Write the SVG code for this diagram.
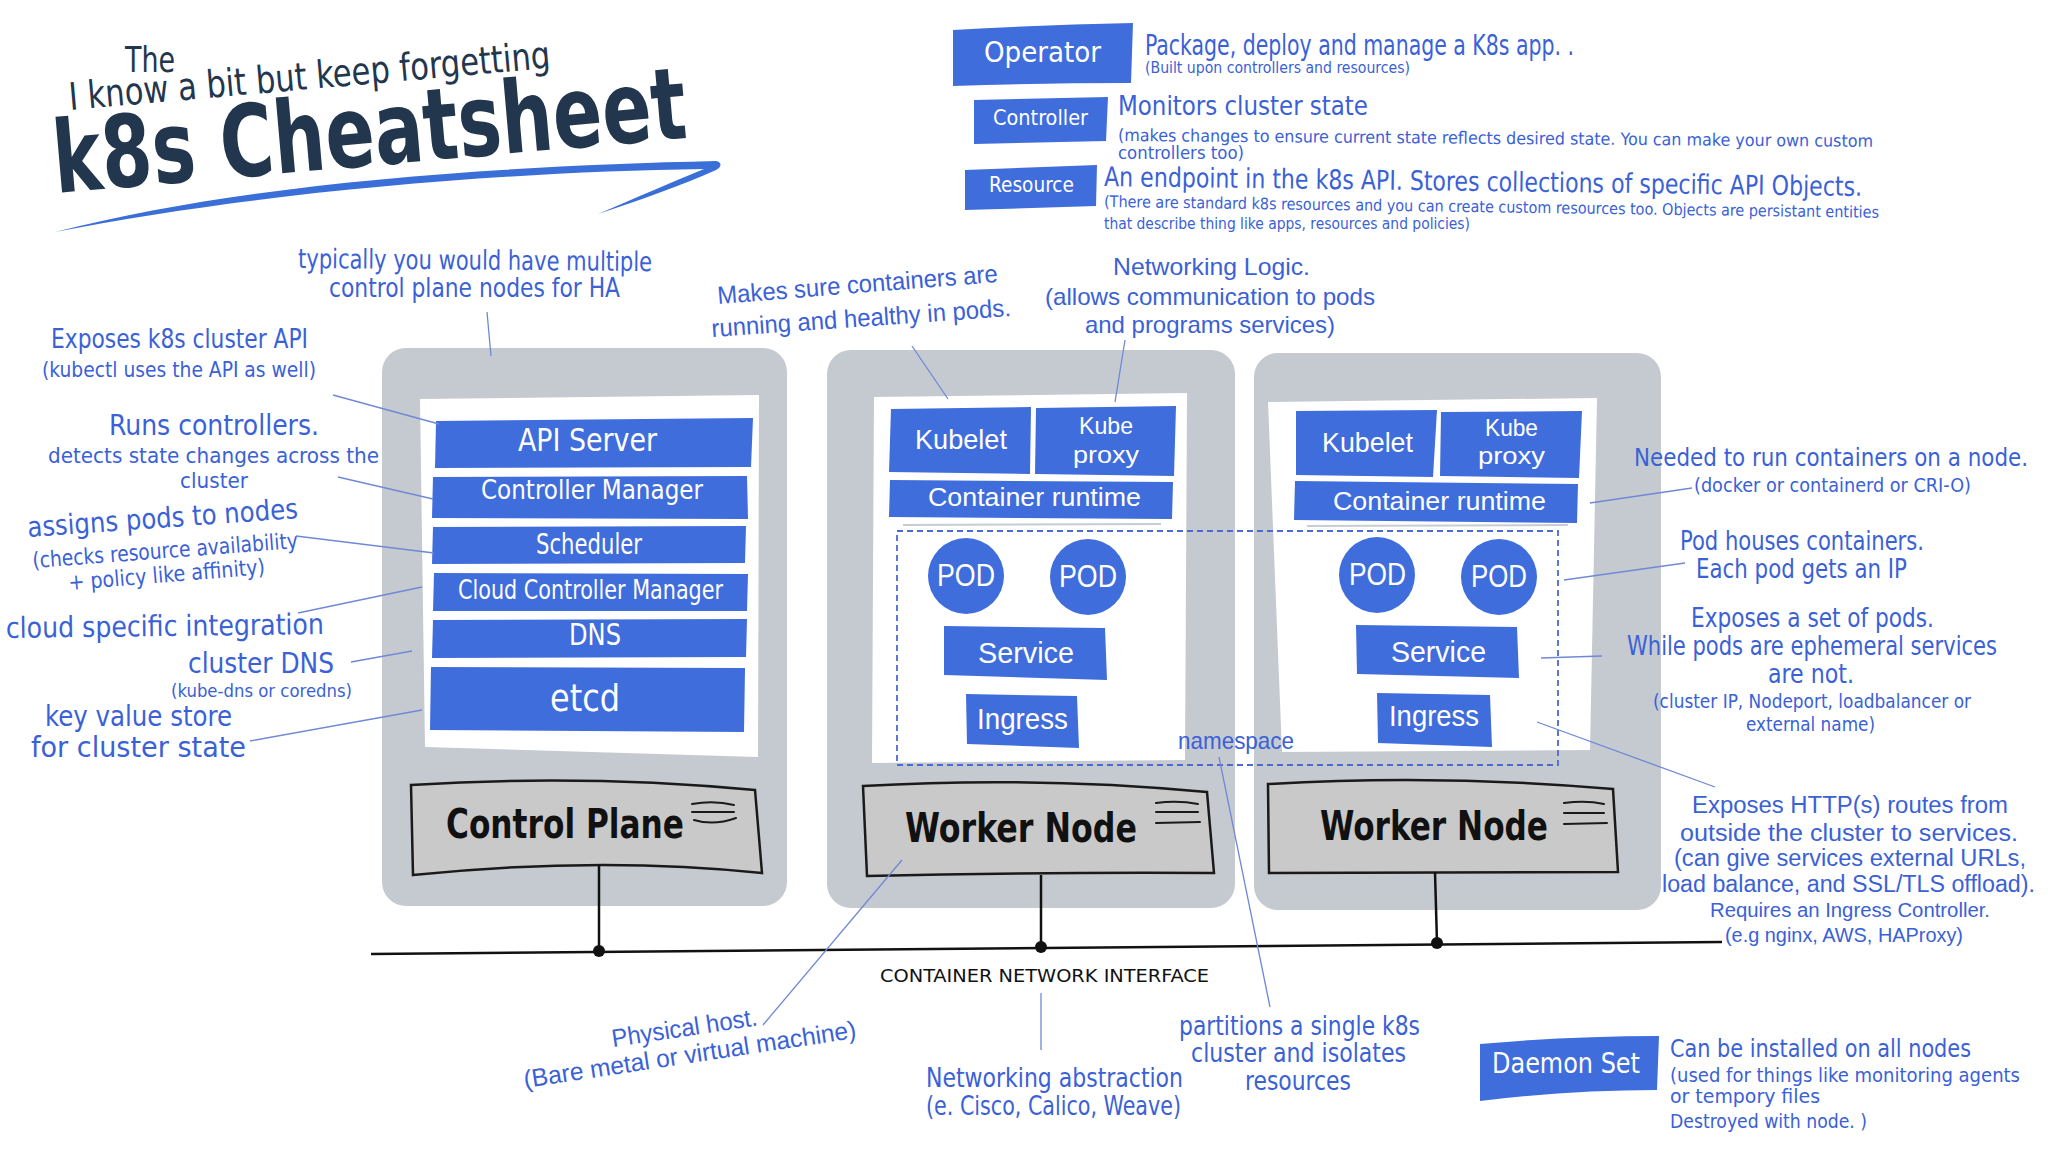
<svg xmlns="http://www.w3.org/2000/svg" width="2048" height="1152" viewBox="0 0 2048 1152">
<style>
.hw{font-family:"Liberation Sans Narrow","DejaVu Sans Condensed","Liberation Sans",sans-serif}
.cm{font-family:"Liberation Sans","Noto Sans","DejaVu Sans",sans-serif}
.blue{fill:#3a61d6}
.wt{fill:#ffffff}
.bar{fill:#3f6ddc}
.node{fill:#c5cad1}
.panel{fill:#ffffff}
.lbl{fill:#c9c9c9;stroke:#1a1a1a;stroke-width:2.5}
.lbltxt{fill:#111111;font-weight:bold}
.icon{fill:none;stroke:#1a1a1a;stroke-width:2;stroke-linecap:round}
.lead{stroke:#7088d6;stroke-width:1.3;fill:none}
.bus{stroke:#111111;stroke-width:2.5;fill:none}
.dot{fill:#111111}
.ns{fill:none;stroke:#4a6bd0;stroke-width:1.8;stroke-dasharray:6 4}
.sep{stroke:#c8ccd3;stroke-width:2}
</style>
<rect width="2048" height="1152" fill="#ffffff"/>

<g id="title">
  <text class="hw" x="125" y="72" font-size="36" fill="#22364e" textLength="50" lengthAdjust="spacingAndGlyphs">The</text>
  <text class="hw" x="70" y="110" font-size="38" fill="#22364e" transform="rotate(-5 70 110)" textLength="483" lengthAdjust="spacingAndGlyphs">I know a bit but keep forgetting</text>
  <text class="hw" x="56" y="193" font-size="100" font-weight="bold" fill="#22364e" transform="rotate(-5 56 193)" textLength="635" lengthAdjust="spacingAndGlyphs">k8s Cheatsheet</text>
  <path d="M55,232 C250,182 500,166 716,161 C722,162 722,167 716,170 C680,186 640,200 598,214 C640,196 672,182 704,169 C500,172 260,192 55,232 Z" fill="#3b6fd8"/>
</g>

<g id="legend">
  <g id="operator">
    <path class="bar" d="M953,30 Q1040,25 1133,23 L1131,83 Q1040,83 953,86 Z"/>
    <text class="hw wt" x="984" y="62" font-size="29" textLength="117" lengthAdjust="spacingAndGlyphs">Operator</text>
    <text class="hw blue" x="1145" y="55" font-size="29" textLength="429" lengthAdjust="spacingAndGlyphs">Package, deploy and manage a K8s app. .</text>
    <text class="hw blue" x="1145" y="73" font-size="16" textLength="265" lengthAdjust="spacingAndGlyphs">(Built upon controllers and resources)</text>
  </g>
  <g id="controller">
    <path class="bar" d="M974,100 L1108,97 L1106,141 L974,144 Z"/>
    <text class="hw wt" x="993" y="125" font-size="22" textLength="95" lengthAdjust="spacingAndGlyphs">Controller</text>
    <text class="hw blue" x="1118" y="115" font-size="27" textLength="250" lengthAdjust="spacingAndGlyphs">Monitors cluster state</text>
    <text class="hw blue" x="1118" y="141" font-size="17" transform="rotate(0.45 1118 141)" textLength="755" lengthAdjust="spacingAndGlyphs">(makes changes to ensure current state reflects desired state. You can make your own custom</text>
    <text class="hw blue" x="1118" y="159" font-size="17" textLength="126" lengthAdjust="spacingAndGlyphs">controllers too)</text>
  </g>
  <g id="resource">
    <path class="bar" d="M965,170 L1097,165 L1096,206 L965,210 Z"/>
    <text class="hw wt" x="989" y="192" font-size="22" textLength="85" lengthAdjust="spacingAndGlyphs">Resource</text>
    <text class="hw blue" x="1104" y="186" font-size="27" transform="rotate(0.75 1104 186)" textLength="758" lengthAdjust="spacingAndGlyphs">An endpoint in the k8s API. Stores collections of specific API Objects.</text>
    <text class="hw blue" x="1104" y="207" font-size="16" transform="rotate(0.8 1104 207)" textLength="775" lengthAdjust="spacingAndGlyphs">(There are standard k8s resources and you can create custom resources too. Objects are persistant entities</text>
    <text class="hw blue" x="1104" y="229" font-size="16" textLength="366" lengthAdjust="spacingAndGlyphs">that describe thing like apps, resources and policies)</text>
  </g>
  <g id="daemon-set">
    <path class="bar" d="M1480,1044 Q1570,1036 1659,1036 L1657,1090 Q1570,1090 1480,1101 Z"/>
    <text class="hw wt" x="1492" y="1073" font-size="28" textLength="148" lengthAdjust="spacingAndGlyphs">Daemon Set</text>
    <text class="hw blue" x="1670" y="1057" font-size="25" textLength="301" lengthAdjust="spacingAndGlyphs">Can be installed on all nodes</text>
    <text class="hw blue" x="1670" y="1082" font-size="20" textLength="350" lengthAdjust="spacingAndGlyphs">(used for things like monitoring agents</text>
    <text class="hw blue" x="1670" y="1103" font-size="20" textLength="150" lengthAdjust="spacingAndGlyphs">or tempory files</text>
    <text class="hw blue" x="1670" y="1128" font-size="20" textLength="197" lengthAdjust="spacingAndGlyphs">Destroyed with node. )</text>
  </g>
</g>

<g id="control-plane">
  <rect class="node" x="382" y="348" width="405" height="558" rx="24"/>
  <path class="panel" d="M420,399 L759,395 L758,757 L425,747 Z"/>
  <path class="bar" d="M436,421 L753,418 L751,467 L435,468 Z"/>
  <path class="bar" d="M433,477 L747,476 L748,519 L432,518 Z"/>
  <path class="bar" d="M433,527 L746,526 L745,563 L432,564 Z"/>
  <path class="bar" d="M434,573 L748,574 L747,611 L433,611 Z"/>
  <path class="bar" d="M433,620 L747,619 L746,657 L432,658 Z"/>
  <path class="bar" d="M431,667 L745,668 L744,732 L430,730 Z"/>
  <text class="hw wt" x="518" y="451" font-size="32" textLength="139" lengthAdjust="spacingAndGlyphs">API Server</text>
  <text class="hw wt" x="481" y="499" font-size="26" textLength="222" lengthAdjust="spacingAndGlyphs">Controller Manager</text>
  <text class="hw wt" x="536" y="554" font-size="28" textLength="106" lengthAdjust="spacingAndGlyphs">Scheduler</text>
  <text class="hw wt" x="458" y="599" font-size="27" textLength="265" lengthAdjust="spacingAndGlyphs">Cloud Controller Manager</text>
  <text class="hw wt" x="569" y="645" font-size="31" textLength="52" lengthAdjust="spacingAndGlyphs">DNS</text>
  <text class="hw wt" x="550" y="711" font-size="38" textLength="70" lengthAdjust="spacingAndGlyphs">etcd</text>
  <path class="lbl" d="M411,785 Q583,774 755,790 L762,873 Q599,856 413,875 Z"/>
  <text class="hw lbltxt" x="446" y="838" font-size="40" textLength="238" lengthAdjust="spacingAndGlyphs">Control Plane</text>
  <path class="icon" d="M692,804 Q714,800 734,805 M692,812 L734,812 M694,820 Q714,826 736,818"/>
</g>

<g id="worker-node-1">
  <rect class="node" x="827" y="350" width="408" height="558" rx="24"/>
  <path class="panel" d="M874,397 L1187,393 L1185,760 L872,763 Z"/>
  <path class="bar" d="M891,409 L1031,407 L1030,474 L889,472 Z"/>
  <path class="bar" d="M1036,408 L1176,406 L1174,476 L1035,474 Z"/>
  <path class="bar" d="M890,480 L1173,482 L1172,519 L889,517 Z"/>
  <line class="sep" x1="903" y1="525" x2="1161" y2="524"/>
  <circle class="bar" cx="966" cy="576" r="38"/>
  <circle class="bar" cx="1088" cy="577" r="38"/>
  <path class="bar" d="M944,626 L1105,628 L1107,680 L944,675 Z"/>
  <path class="bar" d="M966,694 L1077,696 L1079,748 L967,744 Z"/>
  <text class="cm wt" x="915" y="449" font-size="28" textLength="92" lengthAdjust="spacingAndGlyphs">Kubelet</text>
  <text class="cm wt" x="1079" y="434" font-size="24" textLength="54" lengthAdjust="spacingAndGlyphs">Kube</text>
  <text class="cm wt" x="1073" y="463" font-size="24" textLength="66" lengthAdjust="spacingAndGlyphs">proxy</text>
  <text class="cm wt" x="928" y="506" font-size="25" textLength="213" lengthAdjust="spacingAndGlyphs">Container runtime</text>
  <text class="cm wt" x="937" y="586" font-size="31" textLength="58" lengthAdjust="spacingAndGlyphs">POD</text>
  <text class="cm wt" x="1059" y="587" font-size="31" textLength="58" lengthAdjust="spacingAndGlyphs">POD</text>
  <text class="cm wt" x="978" y="663" font-size="30" textLength="96" lengthAdjust="spacingAndGlyphs">Service</text>
  <text class="cm wt" x="977" y="729" font-size="30" textLength="91" lengthAdjust="spacingAndGlyphs">Ingress</text>
  <path class="lbl" d="M863,786 Q1035,776 1207,792 L1214,873 Q1040,872 867,876 Z"/>
  <text class="hw lbltxt" x="905" y="842" font-size="41" textLength="232" lengthAdjust="spacingAndGlyphs">Worker Node</text>
  <path class="icon" d="M1156,803 Q1178,800 1198,804 M1156,812 L1198,812 M1156,823 L1200,822"/>
</g>

<g id="worker-node-2">
  <rect class="node" x="1254" y="353" width="407" height="557" rx="24"/>
  <path class="panel" d="M1268,402 L1597,398 L1590,750 L1282,752 Z"/>
  <path class="bar" d="M1296,411 L1437,410 L1433,477 L1296,475 Z"/>
  <path class="bar" d="M1441,412 L1582,411 L1579,478 L1440,476 Z"/>
  <path class="bar" d="M1295,481 L1578,484 L1577,523 L1294,520 Z"/>
  <line class="sep" x1="1307" y1="526" x2="1568" y2="525"/>
  <circle class="bar" cx="1377" cy="575" r="38"/>
  <circle class="bar" cx="1499" cy="577" r="38"/>
  <path class="bar" d="M1356,625 L1517,627 L1519,678 L1357,674 Z"/>
  <path class="bar" d="M1377,693 L1490,695 L1492,747 L1378,743 Z"/>
  <text class="cm wt" x="1322" y="452" font-size="28" textLength="91" lengthAdjust="spacingAndGlyphs">Kubelet</text>
  <text class="cm wt" x="1485" y="436" font-size="24" textLength="53" lengthAdjust="spacingAndGlyphs">Kube</text>
  <text class="cm wt" x="1478" y="464" font-size="24" textLength="67" lengthAdjust="spacingAndGlyphs">proxy</text>
  <text class="cm wt" x="1333" y="510" font-size="25" textLength="213" lengthAdjust="spacingAndGlyphs">Container runtime</text>
  <text class="cm wt" x="1349" y="585" font-size="31" textLength="57" lengthAdjust="spacingAndGlyphs">POD</text>
  <text class="cm wt" x="1471" y="587" font-size="31" textLength="56" lengthAdjust="spacingAndGlyphs">POD</text>
  <text class="cm wt" x="1391" y="662" font-size="30" textLength="95" lengthAdjust="spacingAndGlyphs">Service</text>
  <text class="cm wt" x="1389" y="726" font-size="30" textLength="90" lengthAdjust="spacingAndGlyphs">Ingress</text>
  <path class="lbl" d="M1268,784 Q1440,774 1613,789 L1618,872 Q1440,872 1269,873 Z"/>
  <text class="hw lbltxt" x="1320" y="840" font-size="41" textLength="228" lengthAdjust="spacingAndGlyphs">Worker Node</text>
  <path class="icon" d="M1564,803 Q1586,800 1604,804 M1564,813 L1604,813 M1564,824 L1607,823"/>
</g>

<g id="namespace">
  <rect class="ns" x="897" y="531" width="661" height="234"/>
  <text class="cm blue" x="1178" y="749" font-size="24" textLength="116" lengthAdjust="spacingAndGlyphs">namespace</text>
</g>

<g id="connectors">
  <path class="bus" d="M371,954 L1722,942"/>
  <line class="bus" x1="599" y1="865" x2="599" y2="951"/>
  <line class="bus" x1="1041" y1="875" x2="1041" y2="947"/>
  <line class="bus" x1="1435" y1="872" x2="1437" y2="943"/>
  <circle class="dot" cx="599" cy="951" r="6"/>
  <circle class="dot" cx="1041" cy="947" r="6"/>
  <circle class="dot" cx="1437" cy="943" r="6"/>
  <line class="lead" x1="487" y1="312" x2="491" y2="356"/>
  <line class="lead" x1="333" y1="395" x2="439" y2="424"/>
  <line class="lead" x1="338" y1="477" x2="433" y2="499"/>
  <line class="lead" x1="296" y1="536" x2="434" y2="553"/>
  <line class="lead" x1="298" y1="613" x2="422" y2="587"/>
  <line class="lead" x1="351" y1="662" x2="412" y2="651"/>
  <line class="lead" x1="250" y1="741" x2="422" y2="710"/>
  <line class="lead" x1="912" y1="346" x2="948" y2="399"/>
  <line class="lead" x1="1125" y1="340" x2="1115" y2="402"/>
  <line class="lead" x1="1590" y1="503" x2="1692" y2="488"/>
  <line class="lead" x1="1564" y1="580" x2="1685" y2="563"/>
  <line class="lead" x1="1541" y1="658" x2="1602" y2="656"/>
  <line class="lead" x1="1537" y1="722" x2="1715" y2="787"/>
  <line class="lead" x1="1219" y1="757" x2="1270" y2="1007"/>
  <line class="lead" x1="902" y1="860" x2="763" y2="1025"/>
  <line class="lead" x1="1041" y1="993" x2="1041" y2="1050"/>
</g>

<g id="annotations">
  <text class="hw blue" x="298" y="268" font-size="27" transform="rotate(0.5 298 268)" textLength="354" lengthAdjust="spacingAndGlyphs">typically you would have multiple</text>
  <text class="hw blue" x="329" y="297" font-size="27" textLength="291" lengthAdjust="spacingAndGlyphs">control plane nodes for HA</text>
  <text class="hw blue" x="51" y="348" font-size="26" textLength="257" lengthAdjust="spacingAndGlyphs">Exposes k8s cluster API</text>
  <text class="hw blue" x="42" y="377" font-size="22" textLength="274" lengthAdjust="spacingAndGlyphs">(kubectl uses the API as well)</text>
  <text class="hw blue" x="109" y="435" font-size="28" textLength="210" lengthAdjust="spacingAndGlyphs">Runs controllers.</text>
  <text class="hw blue" x="48" y="463" font-size="22" textLength="331" lengthAdjust="spacingAndGlyphs">detects state changes across the</text>
  <text class="hw blue" x="180" y="488" font-size="22" textLength="68" lengthAdjust="spacingAndGlyphs">cluster</text>
  <text class="hw blue" x="28" y="537" font-size="28" transform="rotate(-4 28 537)" textLength="271" lengthAdjust="spacingAndGlyphs">assigns pods to nodes</text>
  <text class="hw blue" x="33" y="568" font-size="22" transform="rotate(-4.3 33 568)" textLength="266" lengthAdjust="spacingAndGlyphs">(checks resource availability</text>
  <text class="hw blue" x="69" y="590" font-size="22" transform="rotate(-4.6 69 590)" textLength="197" lengthAdjust="spacingAndGlyphs">+ policy like affinity)</text>
  <text class="hw blue" x="6" y="638" font-size="29" transform="rotate(-0.7 6 638)" textLength="318" lengthAdjust="spacingAndGlyphs">cloud specific integration</text>
  <text class="hw blue" x="188" y="673" font-size="28" textLength="146" lengthAdjust="spacingAndGlyphs">cluster DNS</text>
  <text class="hw blue" x="171" y="697" font-size="18" textLength="181" lengthAdjust="spacingAndGlyphs">(kube-dns or coredns)</text>
  <text class="hw blue" x="45" y="726" font-size="29" textLength="187" lengthAdjust="spacingAndGlyphs">key value store</text>
  <text class="hw blue" x="31" y="757" font-size="29" textLength="215" lengthAdjust="spacingAndGlyphs">for cluster state</text>

  <text class="cm blue" x="718" y="304" font-size="25" transform="rotate(-4.5 718 304)" textLength="281" lengthAdjust="spacingAndGlyphs">Makes sure containers are</text>
  <text class="cm blue" x="712" y="337" font-size="25" transform="rotate(-4 712 337)" textLength="300" lengthAdjust="spacingAndGlyphs">running and healthy in pods.</text>
  <text class="cm blue" x="1113" y="275" font-size="24" textLength="197" lengthAdjust="spacingAndGlyphs">Networking Logic.</text>
  <text class="cm blue" x="1045" y="305" font-size="24" textLength="330" lengthAdjust="spacingAndGlyphs">(allows communication to pods</text>
  <text class="cm blue" x="1085" y="333" font-size="24" textLength="250" lengthAdjust="spacingAndGlyphs">and programs services)</text>

  <text class="hw blue" x="1634" y="466" font-size="24" textLength="394" lengthAdjust="spacingAndGlyphs">Needed to run containers on a node.</text>
  <text class="hw blue" x="1694" y="492" font-size="19" textLength="277" lengthAdjust="spacingAndGlyphs">(docker or containerd or CRI-O)</text>
  <text class="hw blue" x="1680" y="550" font-size="26" textLength="244" lengthAdjust="spacingAndGlyphs">Pod houses containers.</text>
  <text class="hw blue" x="1696" y="578" font-size="26" textLength="211" lengthAdjust="spacingAndGlyphs">Each pod gets an IP</text>
  <text class="hw blue" x="1691" y="627" font-size="26" textLength="243" lengthAdjust="spacingAndGlyphs">Exposes a set of pods.</text>
  <text class="hw blue" x="1627" y="655" font-size="26" textLength="370" lengthAdjust="spacingAndGlyphs">While pods are ephemeral services</text>
  <text class="hw blue" x="1768" y="683" font-size="26" textLength="86" lengthAdjust="spacingAndGlyphs">are not.</text>
  <text class="hw blue" x="1653" y="708" font-size="19" textLength="318" lengthAdjust="spacingAndGlyphs">(cluster IP, Nodeport, loadbalancer or</text>
  <text class="hw blue" x="1746" y="731" font-size="19" textLength="129" lengthAdjust="spacingAndGlyphs">external name)</text>

  <text class="cm blue" x="1692" y="813" font-size="23" textLength="316" lengthAdjust="spacingAndGlyphs">Exposes HTTP(s) routes from</text>
  <text class="cm blue" x="1680" y="841" font-size="23" textLength="338" lengthAdjust="spacingAndGlyphs">outside the cluster to services.</text>
  <text class="cm blue" x="1674" y="866" font-size="23" textLength="352" lengthAdjust="spacingAndGlyphs">(can give services external URLs,</text>
  <text class="cm blue" x="1662" y="892" font-size="23" textLength="373" lengthAdjust="spacingAndGlyphs">load balance, and SSL/TLS offload).</text>
  <text class="cm blue" x="1710" y="917" font-size="20" textLength="280" lengthAdjust="spacingAndGlyphs">Requires an Ingress Controller.</text>
  <text class="cm blue" x="1725" y="942" font-size="20" textLength="238" lengthAdjust="spacingAndGlyphs">(e.g nginx, AWS, HAProxy)</text>

  <text class="hw" x="880" y="982" font-size="17" fill="#111111" textLength="329" lengthAdjust="spacingAndGlyphs">CONTAINER NETWORK INTERFACE</text>
  <text class="cm blue" x="613" y="1047" font-size="25" transform="rotate(-8.5 613 1047)" textLength="147" lengthAdjust="spacingAndGlyphs">Physical host.</text>
  <text class="cm blue" x="525" y="1088" font-size="25" transform="rotate(-8.6 525 1088)" textLength="336" lengthAdjust="spacingAndGlyphs">(Bare metal or virtual machine)</text>
  <text class="hw blue" x="926" y="1087" font-size="27" textLength="257" lengthAdjust="spacingAndGlyphs">Networking abstraction</text>
  <text class="hw blue" x="926" y="1115" font-size="27" textLength="255" lengthAdjust="spacingAndGlyphs">(e. Cisco, Calico, Weave)</text>
  <text class="hw blue" x="1179" y="1035" font-size="26" textLength="241" lengthAdjust="spacingAndGlyphs">partitions a single k8s</text>
  <text class="hw blue" x="1191" y="1062" font-size="26" textLength="215" lengthAdjust="spacingAndGlyphs">cluster and isolates</text>
  <text class="hw blue" x="1245" y="1090" font-size="26" textLength="106" lengthAdjust="spacingAndGlyphs">resources</text>
</g>
</svg>
